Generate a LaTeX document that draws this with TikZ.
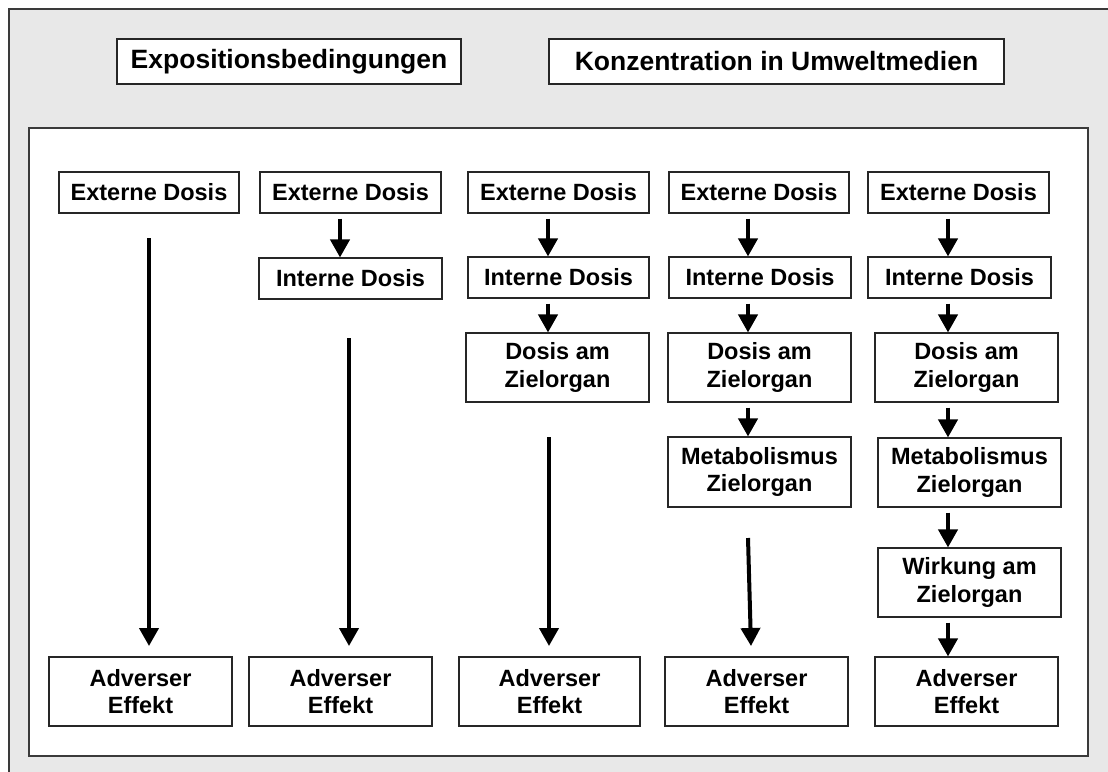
\documentclass[tikz,border=0pt]{standalone}
\usepackage{fontspec}
\setmainfont{Liberation Sans}
\usetikzlibrary{arrows.meta}
\definecolor{panelgray}{HTML}{E8E8E8}
\definecolor{framegray}{HTML}{3A3A3A}
\tikzset{
  box/.style={draw=black!85, line width=1.1pt, fill=white, inner sep=0pt,
    align=center, font=\fontsize{23.5}{27.5}\selectfont\bfseries},
  headbox/.style={box, font=\fontsize{26.5}{30}\selectfont\bfseries},
  arr/.style={line width=4pt, -{Triangle[width=19pt,length=18pt]}},
  link/.style={arr, shorten <=5pt},
}
\newcommand{\bx}[7][]{% style, name, center x, center y, width, height, text
  \node[box, #1, minimum width=#5pt, minimum height=#6pt] (#2) at (#3,#4) {#7};}
\begin{document}
\begin{tikzpicture}[x=1pt,y=-1pt]
\useasboundingbox (0,0) rectangle (1108,771);
% grey outer panel and white inner panel
\draw[framegray, line width=1.5pt, fill=panelgray] (9,9) rectangle (1130,800);
\draw[framegray, line width=1.5pt, fill=white] (29,128) rectangle (1088,756);

% header boxes
\bx[headbox]{expo}{289}{61.5}{344}{45}{Expositionsbedingungen}
\bx[headbox]{konz}{776.5}{61.5}{455}{45}{Konzentration in Umweltmedien}

% column 1
\bx{ext1}{149}{192.5}{180}{41}{Externe Dosis}
\bx{adv1}{140.5}{691.5}{183}{69}{Adverser\\Effekt}
% column 2
\bx{ext2}{350.5}{192.5}{181}{41}{Externe Dosis}
\bx{int2}{350.5}{278.5}{183}{41}{Interne Dosis}
\bx{adv2}{340.5}{691.5}{183}{69}{Adverser\\Effekt}
% column 3
\bx{ext3}{558.5}{192.5}{181}{41}{Externe Dosis}
\bx{int3}{558.5}{277.5}{181}{41}{Interne Dosis}
\bx{dos3}{557.5}{367.5}{183}{69}{Dosis am\\Zielorgan}
\bx{adv3}{549.5}{691.5}{181}{69}{Adverser\\Effekt}
% column 4
\bx{ext4}{759}{192.5}{180}{41}{Externe Dosis}
\bx{int4}{760}{277.5}{182}{41}{Interne Dosis}
\bx{dos4}{759.5}{367.5}{183}{69}{Dosis am\\Zielorgan}
\bx{met4}{759.5}{472}{183}{70}{Metabolismus\\Zielorgan}
\bx{adv4}{756.5}{691.5}{183}{69}{Adverser\\Effekt}
% column 5
\bx{ext5}{958.5}{192.5}{181}{41}{Externe Dosis}
\bx{int5}{959.5}{277.5}{183}{41}{Interne Dosis}
\bx{dos5}{966.5}{367.5}{183}{69}{Dosis am\\Zielorgan}
\bx{met5}{969.5}{472.5}{183}{69}{Metabolismus\\Zielorgan}
\bx{wirk5}{969.5}{582.5}{183}{69}{Wirkung am\\Zielorgan}
\bx{adv5}{966.5}{691.5}{183}{69}{Adverser\\Effekt}

% arrow axes
\coordinate (c2) at (340,0);
\coordinate (c3) at (548,0);
\coordinate (c4) at (748,0);
\coordinate (c5) at (948,0);

% step arrows
\draw[link] (ext2.south -| c2) -- (int2.north -| c2);
\draw[link] (ext3.south -| c3) -- (int3.north -| c3);
\draw[link] (int3.south -| c3) -- (dos3.north -| c3);
\draw[link] (ext4.south -| c4) -- (int4.north -| c4);
\draw[link] (int4.south -| c4) -- (dos4.north -| c4);
\draw[link] (dos4.south -| c4) -- (met4.north -| c4);
\draw[link] (ext5.south -| c5) -- (int5.north -| c5);
\draw[link] (int5.south -| c5) -- (dos5.north -| c5);
\draw[link] (dos5.south -| c5) -- (met5.north -| c5);
\draw[link] (met5.south -| c5) -- (wirk5.north -| c5);
\draw[link] (wirk5.south -| c5) -- (adv5.north -| c5);

% long arrows down to the adverse effect
\coordinate (s1) at (149,238);  \coordinate (t1) at (149,646);
\coordinate (s2) at (349,338);  \coordinate (t2) at (349,646);
\coordinate (s3) at (549,437);  \coordinate (t3) at (549,646);
\coordinate (s4) at (748,538);  \coordinate (t4) at (751,646);
\draw[arr] (s1) -- (t1);
\draw[arr] (s2) -- (t2);
\draw[arr] (s3) -- (t3);
\draw[arr] (s4) -- (t4);
\end{tikzpicture}
\end{document}
